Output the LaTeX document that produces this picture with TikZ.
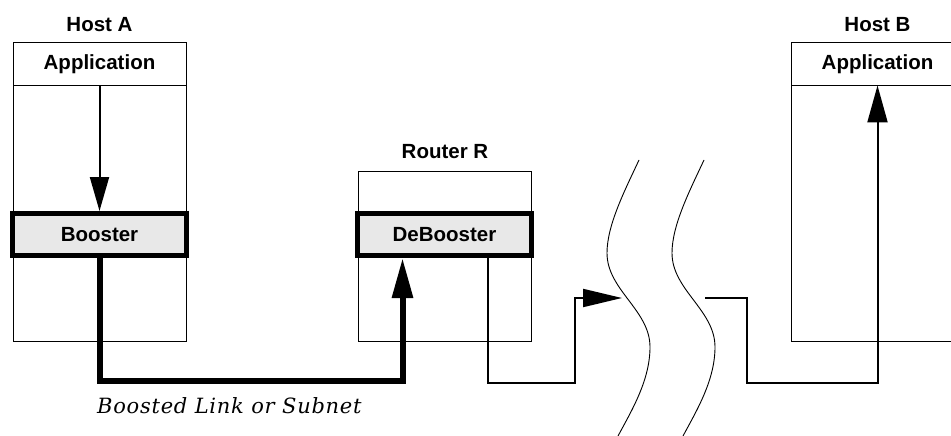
\documentclass[tikz,border=0pt]{standalone}
\usepackage{fontspec}
\setsansfont{Liberation Sans}
\newfontfamily\capfont[LetterSpace=3.5]{DejaVu Serif}
\usetikzlibrary{arrows.meta}
\begin{document}
\begin{tikzpicture}[x=1pt,y=-1pt,
  lab/.style={font=\sffamily\bfseries\fontsize{20.5}{24}\selectfont, inner sep=0},
  frame/.style={draw, line width=0.9pt, inner sep=0, minimum width=173pt},
  thickbox/.style={draw, line width=5pt, fill=gray!18, inner sep=0, minimum width=174pt, minimum height=42pt,
    font=\sffamily\bfseries\fontsize{20.5}{24}\selectfont},
  conn/.style={line width=2pt, line join=miter},
  boost/.style={line width=6pt, line join=miter},
  wave/.style={line width=0.9pt}
]
\useasboundingbox (0,0) rectangle (951,436);
\clip (0,0) rectangle (951,436);

% Host A
\node[lab, anchor=base] (hostAlab) at (99.5,32) {Host A};
\node[frame, minimum height=298.5pt] (hostA) at (99.5,191.75) {};
\node[frame, minimum height=42.5pt, font=\sffamily\bfseries\fontsize{20.5}{24}\selectfont] (appA) at (99.5,63.75) {Application};
\node[thickbox] (booster) at (99.5,234.5) {Booster};

% Router R
\node[lab, anchor=base] (routerlab) at (445,158) {Router R};
\node[frame, minimum height=170pt] (router) at (445,256) {};
\node[thickbox] (debooster) at (444.5,234.5) {DeBooster};

% Host B
\node[lab, anchor=base] (hostBlab) at (877.5,32) {Host B};
\node[frame, minimum height=298.5pt] (hostB) at (877.5,191.75) {};
\node[frame, minimum height=42.5pt, font=\sffamily\bfseries\fontsize{20.5}{24}\selectfont] (appB) at (877.5,63.75) {Application};

% Host A internal arrow
\draw[conn, -{Triangle[length=34pt,width=19pt]}] (appA.south) -- (booster.north);

% Boosted link
\coordinate (bl) at (402.5,381);
\draw[boost, -{Triangle[length=40pt,width=20pt]}] (booster.south) |- (bl) -- (bl |- debooster.south);

\node[anchor=base west, inner sep=0, font=\capfont\itshape\fontsize{21}{24}\selectfont] (bltext) at (97,413) {Boosted Link or Subnet};

% Wavy lines
\draw[wave] (639,160) .. controls (625,190) and (607,225) .. (607,253)
  .. controls (607,290) and (650,310) .. (650,347)
  .. controls (650,380) and (632,410) .. (618,436);
\draw[wave] (704,160) .. controls (690,190) and (672,225) .. (672,253)
  .. controls (672,290) and (715,310) .. (715,347)
  .. controls (715,380) and (697,410) .. (683,436);

% Connectors across the network
\coordinate (d1) at (488,383);
\coordinate (d2) at (575,298);
\coordinate (gapL) at (622,298);
\draw[conn, -{Triangle[length=39pt,width=18pt]}] (debooster.south -| d1) -- (d1) -| (d2) -- (gapL);

\coordinate (gapR) at (705,298);
\coordinate (e1) at (747,383);
\draw[conn, -{Triangle[length=37pt,width=20pt]}] (gapR) -| (e1) -| (appB.south);
\end{tikzpicture}
\end{document}
